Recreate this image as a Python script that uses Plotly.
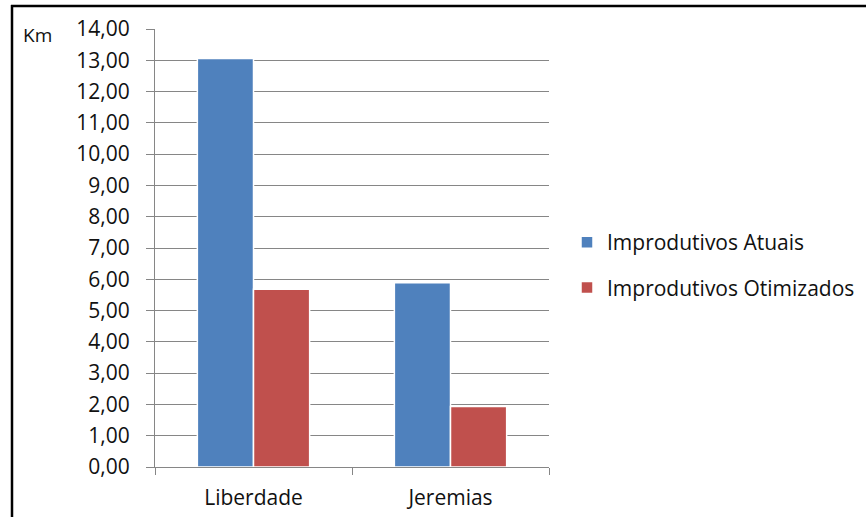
import plotly.graph_objects as go

categories = ["Liberdade", "Jeremias"]
atuais = [13.06, 5.89]
otimizados = [5.68, 1.93]
series_names = ["Improdutivos Atuais", "Improdutivos Otimizados"]
y_ticks = [float(i) for i in range(0, 15)]
y_tick_labels = [f"{v:.2f}".replace(".", ",") for v in y_ticks]

W, H = 866, 517
L, R, T, B = 155, W - 549, 29, H - 467
pw, ph = W - L - R, H - T - B

def px_x(px):  # page pixel -> paper x
    return (px - L) / pw

def px_y(py):  # page pixel -> paper y
    return (H - B - py) / ph

FONT = "Open Sans"
FS = 21
TXT = "#111111"
GRID = "#868686"

fig = go.Figure()
fig.add_trace(go.Bar(x=categories, y=atuais, name=series_names[0],
                     marker=dict(color="#4F81BD", line=dict(color="white", width=1.5)),
                     legendgroup="a"))
fig.add_trace(go.Bar(x=categories, y=otimizados, name=series_names[1],
                     marker=dict(color="#C0504D", line=dict(color="white", width=1.5)),
                     legendgroup="b"))

fig.update_layout(
    width=W, height=H,
    margin=dict(l=L, r=R, t=T, b=B, pad=0, autoexpand=False),
    paper_bgcolor="white", plot_bgcolor="white",
    barmode="group", bargap=0.43, bargroupgap=0.0,
    font=dict(family=FONT, size=FS, color=TXT),
    showlegend=True,
    legend=dict(x=px_x(567), y=px_y(222), xanchor="left", yanchor="top",
                font=dict(family=FONT, size=FS, color=TXT),
                tracegroupgap=15, bgcolor="rgba(0,0,0,0)"),
    xaxis=dict(showline=True, linecolor=GRID, linewidth=1, automargin=False,
               ticks="outside", tickson="boundaries", ticklen=7, tickcolor=GRID,
               showgrid=False, tickfont=dict(size=FS), ticklabelstandoff=12),
    yaxis=dict(range=[0, 14], tickvals=y_ticks, ticktext=y_tick_labels, automargin=False,
               showline=True, linecolor=GRID, linewidth=1,
               ticks="outside", ticklen=8, tickcolor=GRID,
               showgrid=True, gridcolor=GRID, gridwidth=1, zeroline=False,
               tickfont=dict(size=FS), ticklabelstandoff=12),
    annotations=[dict(text="Km", x=px_x(37), y=px_y(35), xref="paper", yref="paper",
                      xanchor="center", yanchor="middle",
                      showarrow=False, font=dict(family=FONT, size=19, color=TXT))],
    shapes=[
        dict(type="line", xref="paper", yref="paper",
             x0=px_x(12), x1=px_x(12), y0=px_y(5), y1=px_y(540),
             line=dict(color="black", width=2.5)),
        dict(type="line", xref="paper", yref="paper",
             x0=px_x(11), x1=px_x(900), y0=px_y(6), y1=px_y(6),
             line=dict(color="black", width=2.5)),
    ],
)

fig.write_html("out.html",
               config={"displayModeBar": False},
               post_script="document.body.style.margin='0';document.body.style.overflow='hidden';")
